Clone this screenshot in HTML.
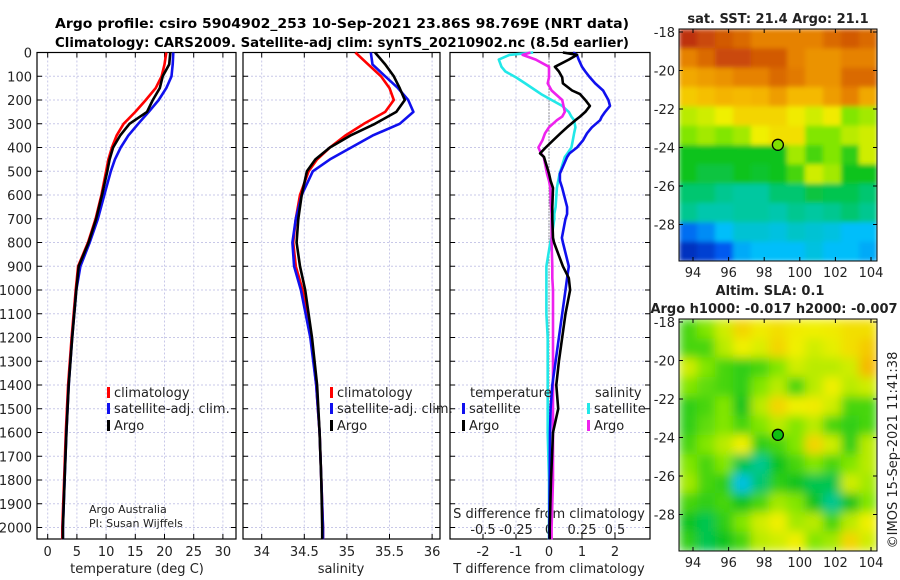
<!DOCTYPE html>
<html><head><meta charset="utf-8">
<style>
html,body{margin:0;padding:0;background:#fff;}
svg{display:block;font-family:"DejaVu Sans","Liberation Sans",sans-serif;}
</style></head>
<body>
<svg id="fig" width="900" height="580" viewBox="0 0 900 580" xmlns="http://www.w3.org/2000/svg">
<defs>
<filter id="blur" x="0" y="0" width="1" height="1"><feGaussianBlur stdDeviation="5" edgeMode="duplicate"/></filter>
<filter id="blurs" x="0" y="0" width="1" height="1"><feGaussianBlur stdDeviation="2.5" edgeMode="duplicate"/></filter>
<clipPath id="clipSla"><rect x="679" y="319" width="198" height="232"/></clipPath>
<clipPath id="clipSst"><rect x="679" y="29" width="198" height="232"/></clipPath>
</defs>
<g font-weight="bold" font-size="13.5" text-anchor="middle" fill="#000">
<text x="342" y="28" textLength="574" lengthAdjust="spacingAndGlyphs">Argo profile: csiro 5904902_253 10-Sep-2021 23.86S 98.769E (NRT data)</text>
<text x="342" y="47" textLength="574" lengthAdjust="spacingAndGlyphs">Climatology: CARS2009. Satellite-adj clim: synTS_20210902.nc (8.5d earlier)</text>
</g>
<g id="root"></g>
</svg>
<script>
// ---------- data ----------
const depths = [0,50,100,150,200,250,300,350,400,450,500,600,700,800,900,1000,1200,1400,1600,1800,2000,2050];
const tempArgo = [21,20.8,19.7,19.2,18,17,14,12.4,11.2,10.6,10.2,9.3,8.3,7.0,5.3,4.9,4.2,3.6,3.2,2.9,2.6,2.6];
const tempClim = [20.3,20.0,19.5,18.5,16.8,15,13,11.8,11,10.4,10,9.2,8.2,6.9,5.2,4.8,4.1,3.5,3.1,2.8,2.5,2.5];
const tempSat  = [21.5,21.4,21.2,20.3,19,17.3,15.5,13.8,12.5,11.5,10.8,9.7,8.6,7.2,5.6,4.9,4.2,3.6,3.2,2.9,2.6,2.6];
const salArgo = [35.33,35.45,35.55,35.62,35.68,35.58,35.33,35.04,34.8,34.63,34.53,34.47,34.43,34.41,34.45,34.51,34.59,34.65,34.68,34.7,34.71,34.71];
const salClim = [35.1,35.25,35.4,35.5,35.55,35.45,35.2,34.98,34.8,34.65,34.55,34.45,34.4,34.37,34.4,34.48,34.58,34.64,34.68,34.7,34.72,34.72];
const salSat  = [35.28,35.3,35.45,35.6,35.72,35.78,35.62,35.3,35.05,34.8,34.6,34.47,34.4,34.36,34.38,34.46,34.57,34.64,34.68,34.7,34.72,34.72];
const diffDepths = [0,10,30,60,80,105,130,160,175,200,225,250,270,285,315,340,370,400,425,440,510,540,570,650,680,700,780,800,900,950,1000,1100,1200,1300,1400,1500,1600,1800,2000,2050];
const tDiffArgo = [0.42,0.85,0.6,0.18,0.3,0.4,0.42,0.7,0.94,1.1,1.24,1.1,0.94,0.8,0.55,0.35,0.12,-0.1,-0.27,-0.15,0,0.05,0.12,0.1,0.1,0.1,0.12,0.15,0.42,0.6,0.64,0.5,0.4,0.3,0.22,0.28,0.12,0.06,0.02,0.02];
const tDiffSat  = [0.73,0.85,0.9,1.0,1.1,1.24,1.4,1.64,1.7,1.8,1.85,1.7,1.6,1.55,1.3,1.15,1.03,0.85,0.62,0.55,0.33,0.33,0.4,0.55,0.55,0.5,0.39,0.42,0.6,0.55,0.5,0.4,0.3,0.2,0.1,0.05,0.03,0.02,0.01,0.01];
const sDiffSat  = [-0.12,-0.3,-0.38,-0.36,-0.33,-0.25,-0.18,-0.1,-0.06,0.02,0.1,0.15,0.17,0.19,0.2,0.19,0.18,0.17,0.14,0.12,0.08,0.07,0.06,0.05,0.04,0.04,0.02,0.01,-0.02,-0.02,-0.02,-0.02,-0.01,-0.01,-0.01,-0.01,-0.01,0,0,0];
const sDiffArgo = [-0.14,-0.2,-0.1,0,0,0,-0.01,0.02,0.05,0.1,0.11,0.12,0.1,0.06,0,-0.03,-0.05,-0.08,-0.06,-0.04,-0.015,0,0.01,0.015,0.02,0.02,0.02,0.02,0.025,0.025,0.03,0.03,0.03,0.03,0.03,0.03,0.03,0.03,0.02,0.02];
const depthTicks = [0,100,200,300,400,500,600,700,800,900,1000,1100,1200,1300,1400,1500,1600,1700,1800,1900,2000];
const tempTicks = [0,5,10,15,20,25,30];
const salTicks = [34,34.5,35,35.5,36];
const salTickLabels = ["34","34.5","35","35.5","36"];
const tdTicks = [-2,-1,0,1,2];
const sdTicks = [-0.5,-0.25,0,0.25,0.5];
const sdTickLabels = ["-0.5","-0.25","0","0.25","0.5"];
const lonTicks = [94,96,98,100,102,104];
const latTicks = [-18,-20,-22,-24,-26,-28];
const argoLon = 98.769, argoLat = -23.86;
const sstGrid = [
[0.95,0.92,0.9,0.88,0.85,0.85,0.85,0.85,0.88,0.9,0.88],
[0.85,0.88,0.92,0.92,0.9,0.9,0.85,0.82,0.82,0.85,0.85],
[0.78,0.8,0.82,0.85,0.85,0.88,0.86,0.82,0.82,0.88,0.88],
[0.72,0.74,0.76,0.75,0.76,0.8,0.75,0.75,0.8,0.85,0.78],
[0.6,0.62,0.65,0.7,0.7,0.7,0.66,0.62,0.66,0.55,0.58],
[0.55,0.58,0.55,0.58,0.65,0.68,0.68,0.55,0.55,0.6,0.62],
[0.45,0.45,0.45,0.45,0.45,0.45,0.58,0.5,0.55,0.48,0.62],
[0.45,0.43,0.43,0.45,0.44,0.45,0.5,0.62,0.58,0.45,0.45],
[0.4,0.4,0.38,0.37,0.37,0.4,0.4,0.43,0.42,0.42,0.4],
[0.38,0.36,0.36,0.37,0.37,0.36,0.38,0.37,0.38,0.4,0.38],
[0.22,0.25,0.3,0.33,0.33,0.32,0.34,0.33,0.32,0.3,0.3],
[0.12,0.15,0.2,0.28,0.3,0.3,0.3,0.32,0.3,0.3,0.28]];
const slaGrid = [
[0.5,0.55,0.62,0.7,0.66,0.68,0.66,0.65,0.66,0.68,0.68],
[0.5,0.5,0.6,0.65,0.63,0.7,0.65,0.62,0.64,0.68,0.72],
[0.62,0.55,0.5,0.48,0.5,0.55,0.62,0.6,0.6,0.62,0.75],
[0.55,0.52,0.5,0.48,0.55,0.6,0.5,0.6,0.65,0.6,0.62],
[0.48,0.5,0.55,0.45,0.6,0.7,0.65,0.66,0.62,0.5,0.5],
[0.48,0.52,0.55,0.5,0.55,0.6,0.55,0.6,0.5,0.48,0.5],
[0.5,0.55,0.6,0.65,0.48,0.5,0.55,0.7,0.62,0.48,0.6],
[0.55,0.5,0.55,0.42,0.38,0.45,0.5,0.55,0.5,0.55,0.6],
[0.58,0.5,0.48,0.32,0.4,0.48,0.45,0.42,0.42,0.62,0.58],
[0.5,0.48,0.5,0.45,0.5,0.58,0.55,0.45,0.38,0.45,0.55],
[0.45,0.42,0.48,0.55,0.62,0.65,0.58,0.6,0.5,0.6,0.65],
[0.48,0.42,0.45,0.5,0.6,0.62,0.65,0.55,0.58,0.7,0.62]];

// ---------- helpers ----------
const NS="http://www.w3.org/2000/svg";
const root=document.getElementById('root');
function mk(tag,attrs,parent){const e=document.createElementNS(NS,tag);for(const k in attrs)e.setAttribute(k,attrs[k]);(parent||root).appendChild(e);return e;}
const yTop=52.5, yPer=0.2375;
const yD=d=>yTop+d*yPer;
const panels=[
 {name:'temperature',x0:37,x1:236,sx:v=>47.7+v*5.84},
 {name:'salinity',x0:243,x1:440,sx:v=>261.7+(v-34)*85.2},
 {name:'difference',x0:450,x1:650,sx:v=>549+v*33}];
const pBottom=539;
const sdX=v=>549+v*132;

panels.forEach((p,i)=>{
 const g=mk('g',{});
 
 
 depthTicks.forEach(d=>{const l=mk('line',{x1:p.x0,x2:p.x1,y1:yD(d),y2:yD(d),stroke:'#c8c8e8','stroke-width':1,'stroke-dasharray':'2,2'},g);
  
  mk('line',{x1:p.x0,x2:p.x0+5,y1:yD(d),y2:yD(d),stroke:'#000'},g);
  mk('line',{x1:p.x1-5,x2:p.x1,y1:yD(d),y2:yD(d),stroke:'#000'},g);});
 const vt = i==0?tempTicks:(i==1?salTicks:tdTicks);
 vt.forEach(v=>{const l=mk('line',{x1:p.sx(v),x2:p.sx(v),y1:yTop,y2:pBottom,stroke:'#c8c8e8','stroke-width':1,'stroke-dasharray':'2,2'},g);
  
  mk('line',{x1:p.sx(v),x2:p.sx(v),y1:pBottom-5,y2:pBottom,stroke:'#000'},g);
  mk('line',{x1:p.sx(v),x2:p.sx(v),y1:yTop,y2:yTop+5,stroke:'#000'},g);});
 const fr=mk('rect',{x:p.x0,y:yTop,width:p.x1-p.x0,height:pBottom-yTop,fill:'none',stroke:'#000','stroke-width':1.2},g);
 
});
depthTicks.forEach(d=>{const t=mk('text',{x:32,y:yD(d)+5,'text-anchor':'end','font-size':13,fill:'#222'});t.textContent=d;
 });
function xlabels(ticks,labels,sx,y,name){ticks.forEach((v,i)=>{const t=mk('text',{x:sx(v),y:y,'text-anchor':'middle','font-size':13,fill:'#222'});t.textContent=labels[i];
 });}
xlabels(tempTicks,tempTicks.map(String),panels[0].sx,556,'temperature-tick-label');
xlabels(salTicks,salTickLabels,panels[1].sx,556,'salinity-tick-label');
xlabels(tdTicks,tdTicks.map(String),panels[2].sx,556,'t-diff-tick-label');
xlabels(sdTicks,sdTickLabels,sdX,534,'s-diff-tick-label');
function txt(x,y,s,name,extra){const t=mk('text',Object.assign({x:x,y:y,'font-size':13,fill:'#222'},extra||{}));t.textContent=s;return t;}
txt(137,573,'temperature (deg C)','temperature-axis-title',{'text-anchor':'middle'});
txt(341,573,'salinity','salinity-axis-title',{'text-anchor':'middle'});
txt(549,573,'T difference from climatology','t-diff-axis-title',{'text-anchor':'middle'});
txt(549,518,'S difference from climatology','s-diff-axis-title',{'text-anchor':'middle'});
txt(89,513,'Argo Australia','credit-line-1',{'font-size':11});
txt(89,527,'PI: Susan Wijffels','credit-line-2',{'font-size':11});

function line(xs,ds,sx,color,name,w){const pts=ds.map((d,i)=>sx(xs[i]).toFixed(1)+','+yD(d).toFixed(1)).join(' ');
 const p=mk('polyline',{points:pts,fill:'none',stroke:color,'stroke-width':w||2.6,'stroke-linejoin':'round'});
 }
line(tempClim,depths,panels[0].sx,'#ff0000','temp-climatology-line');
line(tempSat,depths,panels[0].sx,'#1010ee','temp-satellite-line');
line(tempArgo,depths,panels[0].sx,'#000','temp-argo-line');
line(salClim,depths,panels[1].sx,'#ff0000','sal-climatology-line');
line(salSat,depths,panels[1].sx,'#1010ee','sal-satellite-line');
line(salArgo,depths,panels[1].sx,'#000','sal-argo-line');
mk('line',{x1:549,x2:549,y1:yTop,y2:pBottom,stroke:'#444','stroke-dasharray':'1,2'});
line(sDiffSat,diffDepths,sdX,'#22e8e8','s-diff-satellite-line');
line(sDiffArgo,diffDepths,sdX,'#ee22ee','s-diff-argo-line');
line(tDiffSat,diffDepths,panels[2].sx,'#1010ee','t-diff-satellite-line');
line(tDiffArgo,diffDepths,panels[2].sx,'#000','t-diff-argo-line');

function leg(x,y,color,label,name){const r=mk('rect',{x:x,y:y-10,width:3,height:11,fill:color});txt(x+7,y,label,name+'-label');}
leg(107,397,'#ff0000','climatology','legend-climatology');
leg(107,413,'#1010ee','satellite-adj. clim.','legend-satellite');
leg(107,430,'#000','Argo','legend-argo');
leg(330,397,'#ff0000','climatology','legend2-climatology');
leg(330,413,'#1010ee','satellite-adj. clim.','legend2-satellite');
leg(330,430,'#000','Argo','legend2-argo');
txt(470,397,'temperature','legend-temperature-heading');
leg(462,413,'#1010ee','satellite','legend-tdiff-satellite');
leg(462,430,'#000','Argo','legend-tdiff-argo');
txt(595,397,'salinity','legend-salinity-heading');
leg(587,413,'#22e8e8','satellite','legend-sdiff-satellite');
leg(587,430,'#ee22ee','Argo','legend-sdiff-argo');

const stops=[[0.1,[0,40,180]],[0.2,[0,90,240]],[0.3,[0,190,250]],[0.37,[0,200,160]],[0.45,[10,195,30]],[0.55,[130,230,0]],[0.65,[240,240,0]],[0.75,[245,185,0]],[0.85,[230,130,0]],[0.95,[190,50,10]]];
function cmap(v){if(v<=stops[0][0])return 'rgb('+stops[0][1]+')';for(let i=1;i<stops.length;i++){if(v<=stops[i][0]){const a=stops[i-1],b=stops[i],t=(v-a[0])/(b[0]-a[0]);return 'rgb('+a[1].map((c,k)=>Math.round(c+(b[1][k]-c)*t)).join(',')+')';}}return 'rgb('+stops[stops.length-1][1]+')';}

function map(grid,top,name,blur,titleLines){
 const x0=679,w=198,h=232;
 const lonX=lon=>693+(lon-94)*17.8, latY=lat=>top+3+(-18-lat)*19.25;
 const g=mk('g',{'clip-path':'url(#'+(blur?'clipSla':'clipSst')+')'});
 
 const inner=mk('g',{filter:blur?'url(#blur)':'url(#blurs)'},g);
 const cw=w/grid[0].length, ch=h/grid.length;
 grid.forEach((row,r)=>row.forEach((v,c)=>{const e=mk('rect',{x:x0+c*cw,y:top+r*ch,width:cw+0.6,height:ch+0.6,fill:cmap(v)},inner);
  }));
 mk('rect',{x:x0,y:top,width:w,height:h,fill:'none',stroke:'#000','stroke-width':1});
 const c=mk('circle',{cx:lonX(argoLon),cy:latY(argoLat),r:5.5,fill:blur?'#10c010':'#80e000',stroke:'#000','stroke-width':1.3});
 
 latTicks.forEach(l=>{txt(675,latY(l)+5,String(l),name+'-lat-label',{'text-anchor':'end'});
  mk('line',{x1:x0,x2:x0+4,y1:latY(l),y2:latY(l),stroke:'#000'});mk('line',{x1:x0+w-4,x2:x0+w,y1:latY(l),y2:latY(l),stroke:'#000'});});
 lonTicks.forEach(l=>{txt(lonX(l),top+h+16,String(l),name+'-lon-label',{'text-anchor':'middle'});
  mk('line',{x1:lonX(l),x2:lonX(l),y1:top+h-4,y2:top+h,stroke:'#000'});mk('line',{x1:lonX(l),x2:lonX(l),y1:top,y2:top+4,stroke:'#000'});});
 titleLines.forEach(tl=>txt(tl[0],tl[1],tl[2],name+'-title',{'text-anchor':'middle','font-weight':'bold','font-size':13}));
}
map(sstGrid,29,'sst',false,[[778,23,'sat. SST: 21.4 Argo: 21.1']]);
map(slaGrid,319,'sla',true,[[770,295,'Altim. SLA: 0.1'],[774,313,'Argo h1000: -0.017 h2000: -0.007']]);
const stamp=txt(0,0,'©IMOS 15-Sep-2021 11:41:38','timestamp',{'text-anchor':'middle',transform:'translate(897,450) rotate(-90)'});
</script>
</body></html>
